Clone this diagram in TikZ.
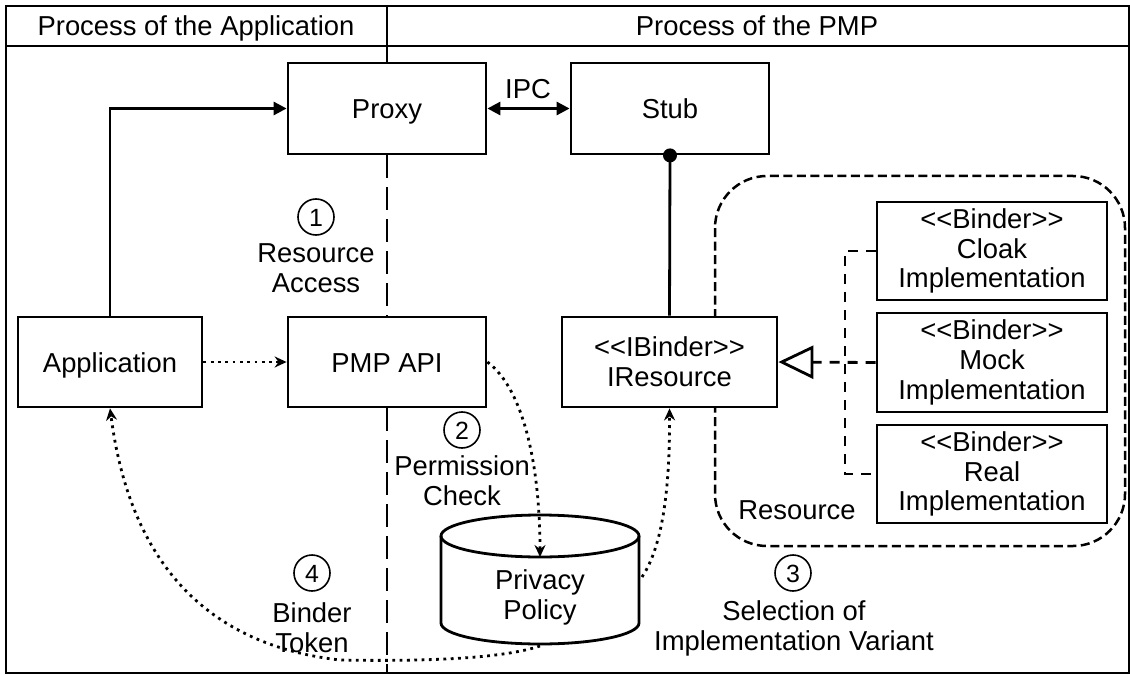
\documentclass[tikz,border=0pt]{standalone}
\usepackage{fontspec}
\setmainfont{Liberation Sans}[Ligatures=TeXOff]
\usetikzlibrary{arrows.meta}
\begin{document}
\begin{tikzpicture}[x=1bp,y=-1bp,
  lw/.style={line width=2.8bp},
  box/.style={draw, fill=white, line width=2.8bp, inner sep=0pt, align=center, font=\fontsize{27.5}{30}\selectfont},
  txt/.style={inner sep=0pt, align=center, font=\fontsize{27.5}{30}\selectfont},
  oneline/.style={text height=20bp, text depth=0bp},
  num/.style={draw, circle, line width=1.6bp, minimum size=36bp, inner sep=0pt, font=\fontsize{25}{30}\selectfont, text height=18bp, text depth=0bp},
  divdash/.style={line width=2.8bp, dash pattern=on 23bp off 9bp},
  impldash/.style={line width=2.8bp, dash pattern=on 10bp off 8bp},
  resdash/.style={line width=2.5bp, dash pattern=on 9bp off 4.5bp},
  dotline/.style={line width=2.8bp, dash pattern=on 2.8bp off 4.5bp},
  dottip/.style={-{Stealth[length=12bp,width=11bp,inset=4bp]}},
  soltip/.style={-{Triangle[length=13bp,width=13bp]}},
  bothtip/.style={{Triangle[length=13bp,width=13bp]}-{Triangle[length=13bp,width=13bp]}},
  opentip/.style={-{Triangle[open,length=35bp,width=33bp]}}
]
\useasboundingbox (0,0) rectangle (1130,675);

% frame and header
\draw[lw] (6,6) rectangle (1129.5,673);
\draw[lw] (6,46) -- (1129.5,46);
\node[txt, oneline] (h1) at (196,26) {Process of the Application};
\node[txt, oneline] (h2) at (757,26) {Process of the PMP};

% resource region
\draw[resdash, rounded corners=52bp] (715,176) rectangle (1125,546);
\node[txt, oneline] (reslabel) at (797,509) {Resource};

% boxes
\node[box, oneline, minimum width=198bp, minimum height=91bp] (proxy) at (387,108.5) {Proxy};
\node[box, oneline, minimum width=198bp, minimum height=91bp] (stub) at (670,108.5) {Stub};
\node[box, oneline, minimum width=184bp, minimum height=90bp] (app) at (110,362) {Application};
\node[box, oneline, minimum width=198bp, minimum height=90bp] (pmp) at (387,362) {PMP API};
\node[box, minimum width=215bp, minimum height=90bp] (ires) at (669.5,362) {<<IBinder>>\\IResource};
\node[box, minimum width=230bp, minimum height=98bp] (cloak) at (992,251) {<<Binder>>\\Cloak\\Implementation};
\node[box, minimum width=230bp, minimum height=99bp] (mock) at (992,362.5) {<<Binder>>\\Mock\\Implementation};
\node[box, minimum width=230bp, minimum height=98bp] (real) at (992,474) {<<Binder>>\\Real\\Implementation};

% privacy policy cylinder
\node[txt] (pp) at (540,597) {Privacy\\Policy};
\draw[lw] (441,536) -- (441,623) arc[start angle=180, end angle=360, x radius=99bp, y radius=21bp] -- (639,536);
\draw[lw] (540,536) ellipse [x radius=99bp, y radius=21bp];
\coordinate (pptop) at (540,557);
\coordinate (ppright) at (642,577);
\coordinate (ppbot) at (540,646);

% process divider
\coordinate (divtop) at (387,6);
\coordinate (divbot) at (387,673);
\draw[lw] (divtop) -- (proxy.north);
\draw[divdash] (proxy.south) -- (pmp.north);
\draw[divdash] (pmp.south) -- (divbot);

% solid connectors
\draw[lw, soltip] (app.north) |- (proxy.west);
\draw[lw, bothtip] (proxy.east) -- (stub.west);
\node[txt, oneline] (ipc) at (528,89) {IPC};
\draw[lw] (stub.south) -- (ires.north);
\fill (stub.south) circle[radius=7bp];

% realisation
\coordinate (j) at (845,362.5);
\draw[impldash] (cloak.west) -| (j) |- (real.west);
\draw[impldash, opentip] (mock.west) -- (ires.east);

% dotted flows
\draw[dotline, dottip] (app.east) -- (pmp.west);
\draw[dotline, dottip] (pmp.east) .. controls (525,390) and (540,470) .. (pptop);
\draw[dotline, dottip] (ppright) .. controls (660,550) and (670,500) .. (ires.south);
\draw[dotline, dottip] (ppbot) .. controls (510,656) and (450,662) .. (340,660) .. controls (160,640) and (122,500) .. (app.south);

% step labels
\node[num] (n1) at (316,217) {1};
\node[txt] (l1) at (316,268) {Resource\\Access};
\node[num] (n2) at (462,430) {2};
\node[txt] (l2) at (462,480.5) {Permission\\Check};
\node[num] (n3) at (793,573) {3};
\node[txt] (l3) at (794,628) {Selection of\\Implementation Variant};
\node[num] (n4) at (312,573) {4};
\node[txt] (l4) at (312,628) {Binder\\Token};
\end{tikzpicture}
\end{document}
